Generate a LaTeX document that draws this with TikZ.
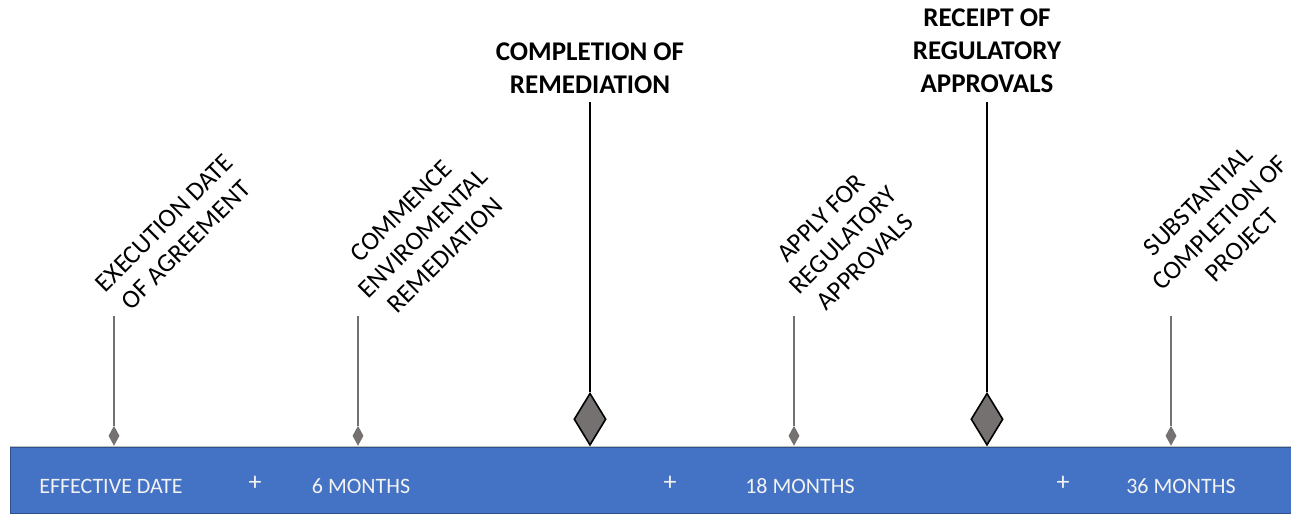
\documentclass[tikz,border=0pt]{standalone}
\usepackage{fontspec}
\setmainfont{Carlito}
\usetikzlibrary{shapes.geometric}
\definecolor{barblue}{HTML}{4472C4}
\definecolor{barline}{HTML}{2F528F}
\definecolor{mgrey}{HTML}{767171}
\definecolor{bartext}{HTML}{F2F2F2}
\tikzset{
  smalldia/.style={diamond,fill=mgrey,draw=none,inner sep=0pt,minimum width=11pt,minimum height=20pt},
  bigdia/.style={diamond,fill=mgrey,draw=black,line width=1.6pt,inner sep=0pt,minimum width=32pt,minimum height=52pt},
  smallstem/.style={draw=mgrey,line width=1.6pt},
  bigstem/.style={draw=black,line width=1.6pt},
  rotlabel/.style={rotate=45,align=center,font=\fontsize{26}{31}\selectfont,inner sep=0pt},
  toplabel/.style={align=center,font=\fontsize{27}{33}\selectfont\bfseries,inner sep=0pt},
  bartxt/.style={text=bartext,font=\fontsize{22}{24}\selectfont,inner sep=0pt},
  plustxt/.style={text=bartext,font=\fontsize{26}{26}\selectfont,inner sep=0pt}
}
\begin{document}
\begin{tikzpicture}[x=1pt,y=-1pt]
\useasboundingbox (0,0) rectangle (1291,514);
% bar
\node[draw=barline,fill=barblue,line width=1pt,minimum width=1281pt,minimum height=66pt,inner sep=0pt,anchor=north west] (bar) at (9.5,446.5) {};
\draw[draw=black!25,line width=0.6pt] (bar.north west) -- (bar.north east);
% bar texts
\node[bartxt] (t1) at (111,486) {EFFECTIVE DATE};
\node[plustxt] (p1) at (255,483) {+};
\node[bartxt] (t2) at (361,486) {6 MONTHS};
\node[plustxt] (p2) at (670,483) {+};
\node[bartxt] (t3) at (800,486) {18 MONTHS};
\node[plustxt] (p3) at (1063,483) {+};
\node[bartxt] (t4) at (1181,486) {36 MONTHS};
% small milestones
\node[smalldia,anchor=south] (d1) at (114,446) {};
\node[smalldia,anchor=south] (d2) at (358,446) {};
\node[smalldia,anchor=south] (d3) at (794,446) {};
\node[smalldia,anchor=south] (d4) at (1171,446) {};
\coordinate (s1) at (114,316);
\coordinate (s2) at (358,316);
\coordinate (s3) at (794,316);
\coordinate (s4) at (1171,316);
\draw[smallstem] (s1) -- (d1.north);
\draw[smallstem] (s2) -- (d2.north);
\draw[smallstem] (s3) -- (d3.north);
\draw[smallstem] (s4) -- (d4.north);
% big milestones
\node[bigdia,anchor=south] (b1) at (590,446) {};
\node[bigdia,anchor=south] (b2) at (987,446) {};
\coordinate (bs1) at (590,102);
\coordinate (bs2) at (987,102);
\draw[bigstem] (bs1) -- (b1.north);
\draw[bigstem] (bs2) -- (b2.north);
% labels
\node[toplabel] (L1) at (590,68) {COMPLETION OF\\REMEDIATION};
\node[toplabel] (L2) at (987,51) {RECEIPT OF\\REGULATORY\\APPROVALS};
\node[rotlabel] (r1) at (175,234) {EXECUTION DATE\\OF AGREEMENT};
\node[rotlabel] (r2) at (423,233) {COMMENCE\\ENVIROMENTAL\\REMEDIATION};
\node[rotlabel] (r3) at (843,240) {APPLY FOR\\REGULATORY\\APPROVALS};
\node[rotlabel] (r4) at (1220,223) {SUBSTANTIAL\\COMPLETION OF\\PROJECT};
\end{tikzpicture}
\end{document}
